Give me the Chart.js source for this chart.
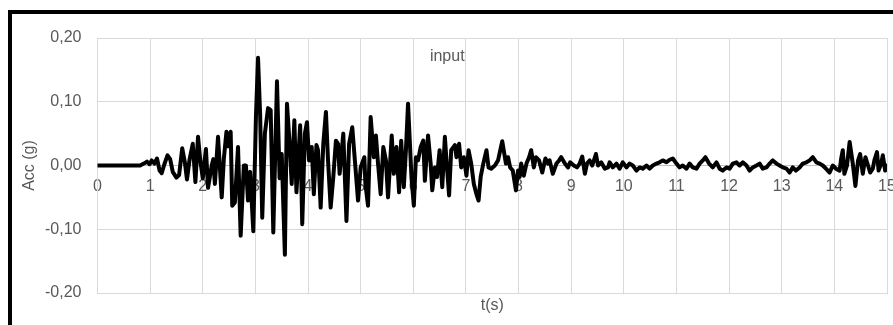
<!DOCTYPE html>
<html>
<head>
<meta charset="utf-8">
<script src="https://cdn.jsdelivr.net/npm/chart.js@4/dist/chart.umd.min.js"></script>
<style>
  html, body { margin: 0; padding: 0; background: #fff; overflow: hidden; }
  #wrap { position: relative; width: 893px; height: 325px; }
  #frame { position: absolute; left: 8px; top: 10px; width: 1000px; height: 400px;
           border-left: 4px solid #000; border-top: 4px solid #000; }
  #myChart { position: absolute; left: 0; top: 0; }
</style>
</head>
<body>
<div id="wrap">
  <div id="frame"></div>
  <canvas id="myChart" width="893" height="325"></canvas>
</div>
<script>
// time (s) and acceleration (g)
const times = [
  0, 0.4, 0.81, 0.88, 0.94, 0.99, 1.03, 1.08, 1.13, 1.18, 1.22, 1.27, 1.33, 1.38, 1.43, 1.50,
  1.55, 1.61, 1.66, 1.70, 1.75, 1.81, 1.86, 1.91, 1.95, 2.00, 2.06, 2.10, 2.17, 2.20, 2.23,
  2.29, 2.36, 2.40, 2.45, 2.48, 2.53, 2.56, 2.61, 2.67, 2.72, 2.78, 2.82, 2.86, 2.90, 2.96,
  3.01, 3.05, 3.09, 3.13, 3.18, 3.24, 3.29, 3.34, 3.41, 3.46, 3.50, 3.56, 3.60, 3.65, 3.69,
  3.74, 3.78, 3.85, 3.89, 3.94, 3.98, 4.02, 4.07, 4.11, 4.16, 4.19, 4.24, 4.29, 4.34, 4.38,
  4.43, 4.48, 4.53, 4.57, 4.60, 4.67, 4.73, 4.78, 4.84, 4.89, 4.95, 5.00, 5.07, 5.09, 5.14,
  5.19, 5.25, 5.29, 5.33, 5.38, 5.43, 5.48, 5.52, 5.59, 5.63, 5.68, 5.73, 5.77, 5.82, 5.86,
  5.90, 5.965, 6.01, 6.05, 6.09, 6.14, 6.19, 6.22, 6.28, 6.33, 6.36, 6.41, 6.45, 6.50, 6.55,
  6.60, 6.63, 6.68, 6.72, 6.79, 6.82, 6.87, 6.91, 6.96, 7.01, 7.05, 7.10, 7.15, 7.20, 7.24,
  7.28, 7.33, 7.39, 7.43, 7.48, 7.55, 7.61, 7.69, 7.76, 7.80, 7.84, 7.89, 7.95, 7.99, 8.02,
  8.05, 8.10, 8.15, 8.20, 8.24, 8.29, 8.33, 8.39, 8.45, 8.51, 8.56, 8.59, 8.65, 8.72, 8.77,
  8.81, 8.88, 8.94, 8.98, 9.05, 9.11, 9.16, 9.21, 9.26, 9.30, 9.35, 9.40, 9.47, 9.51, 9.57,
  9.64, 9.70, 9.73, 9.79, 9.86, 9.92, 9.98, 10.05, 10.11, 10.17, 10.24, 10.30, 10.36, 10.43,
  10.49, 10.55, 10.62, 10.68, 10.74, 10.81, 10.87, 10.93, 11.00, 11.06, 11.12, 11.19, 11.25,
  11.31, 11.38, 11.44, 11.50, 11.55, 11.62, 11.69, 11.76, 11.82, 11.88, 11.95, 12.01, 12.07,
  12.14, 12.20, 12.26, 12.33, 12.39, 12.45, 12.52, 12.58, 12.64, 12.71, 12.77, 12.83, 12.90,
  12.96, 13.02, 13.09, 13.15, 13.21, 13.27, 13.34, 13.40, 13.47, 13.53, 13.59, 13.66, 13.72,
  13.78, 13.84, 13.91, 13.97, 14.03, 14.10, 14.13, 14.16, 14.19, 14.24, 14.29, 14.35, 14.40,
  14.45, 14.49, 14.54, 14.59, 14.64, 14.68, 14.73, 14.76, 14.81, 14.84, 14.89, 14.92, 14.965, 15.0
];
const acc = [
  0, 0, 0, 0.003, 0.006, 0.002, 0.008, 0.003, 0.011, -0.008, -0.012, 0.002, 0.016, 0.010, -0.010, -0.019,
  -0.015, 0.027, 0.005, -0.022, 0.010, 0.034, -0.026, 0.045, 0.010, -0.020, 0.026, -0.035, 0.000, 0.010, -0.029,
  0.045, -0.050, 0.010, 0.053, 0.030, 0.053, -0.063, -0.058, 0.029, -0.110, 0.000, 0.000, -0.055, -0.010, -0.103,
  0.076, 0.169, 0.080, -0.082, 0.050, 0.090, 0.087, -0.105, 0.132, -0.020, 0.018, -0.140, 0.097, 0.034, -0.029,
  0.071, -0.042, 0.063, -0.092, 0.050, 0.068, 0.008, 0.029, -0.045, 0.032, 0.024, -0.066, 0.034, 0.084, 0.008,
  -0.066, -0.018, 0.039, 0.034, -0.013, 0.050, -0.087, 0.034, 0.060, 0.008, -0.055, -0.003, 0.013, -0.029, -0.063,
  0.076, 0.013, 0.047, 0.003, -0.045, 0.029, 0.008, -0.050, 0.047, -0.013, 0.029, -0.042, 0.039, -0.034, 0.024,
  0.097, -0.018, -0.063, 0.013, 0.008, 0.029, 0.039, -0.024, 0.047, 0.003, -0.039, -0.003, -0.018, 0.024, -0.034,
  0.045, 0.008, -0.047, 0.024, 0.032, 0.013, 0.034, -0.003, 0.013, -0.016, 0.024, 0.003, -0.029, -0.045, -0.055,
  -0.018, 0.003, 0.024, -0.003, -0.005, 0.000, 0.008, 0.038, 0.003, 0.013, -0.003, -0.008, -0.039, -0.008, -0.018,
  0.003, -0.016, 0.003, 0.013, 0.024, -0.003, 0.013, 0.008, -0.011, 0.011, 0.003, 0.008, -0.013, 0.003, 0.008,
  0.013, 0.003, -0.003, 0.005, 0.000, -0.003, 0.003, 0.014, -0.013, 0.003, 0.008, 0.000, 0.018, 0.000, 0.005,
  -0.005, -0.003, 0.005, -0.003, 0.003, -0.005, 0.005, -0.003, 0.003, 0.000, -0.008, -0.003, -0.005, 0.000,
  -0.005, 0.000, 0.003, 0.005, 0.008, 0.005, 0.009, 0.011, 0.003, -0.003, 0.000, -0.005, 0.003,
  -0.003, -0.005, 0.003, 0.008, 0.013, 0.003, -0.003, 0.005, -0.005, -0.008, -0.003, -0.005, 0.003,
  0.005, 0.000, 0.005, 0.000, -0.008, -0.003, 0.000, 0.003, -0.005, -0.003, 0.003, 0.008, 0.003,
  0.000, -0.003, -0.005, -0.011, -0.003, -0.008, -0.003, 0.003, 0.005, 0.008, 0.013, 0.005, 0.003,
  0.000, -0.005, -0.011, 0.000, -0.005, -0.008, 0.011, 0.024, -0.013, 0.000, 0.037, 0.003, -0.032,
  0.008, 0.018, -0.013, 0.013, 0.000, -0.011, -0.005, 0.008, 0.021, -0.008, 0.003, 0.016, -0.008, 0.000
];
const yTicks = [-0.2, -0.1, 0, 0.1, 0.2];
const chartTitle = 'input';

const ctx = document.getElementById('myChart');
const grey = '#595959';
const gridGrey = '#d9d9d9';
const font = { family: "'Liberation Sans', Arial, sans-serif", size: 16 };

const points = times.map((t, i) => ({ x: t, y: acc[i] }));

const titleInside = {
    id: 'titleInside',
    afterDraw(chart) {
        const c = chart.ctx;
        const area = chart.chartArea;
        c.save();
        c.font = "16px 'Liberation Sans', Arial, sans-serif";
        c.fillStyle = grey;
        c.textAlign = 'center';
        c.textBaseline = 'middle';
        c.fillText(chartTitle, area.left + (area.right - area.left) * 0.443, area.top + 19);
        c.restore();
    }
};

function noSidePad(scale) {
    scale.paddingLeft = 0;
    scale.paddingRight = 0;
}

new Chart(ctx, {
    type: 'line',
    data: {
        datasets: [{
            label: 'input',
            data: points,
            borderColor: '#000',
            borderWidth: 4,
            pointRadius: 0,
            tension: 0,
            borderJoinStyle: 'round',
            borderCapStyle: 'round'
        }]
    },
    options: {
        responsive: false,
        animation: false,
        parsing: false,
        layout: { padding: { left: 0, right: 6, top: 38, bottom: 0 } },
        plugins: {
            legend: { display: false },
            tooltip: { enabled: false }
        },
        scales: {
            x: {
                type: 'linear',
                position: 'bottom',
                min: 0,
                max: 15,
                ticks: { display: false, stepSize: 1 },
                grid: { color: gridGrey, drawTicks: false },
                border: { color: gridGrey },
                title: { display: true, text: 't(s)', color: grey, font: font, padding: { top: 0, bottom: 10 } },
                afterFit(scale) { scale.height = 32; noSidePad(scale); }
            },
            x2: {
                type: 'linear',
                position: { y: 0 },
                min: 0,
                max: 15,
                ticks: { stepSize: 1, color: grey, font: font, padding: 11, maxRotation: 0 },
                grid: { display: false, drawTicks: false },
                border: { display: true, color: '#bfbfbf', width: 1 },
                afterFit: noSidePad
            },
            y: {
                min: -0.2,
                max: 0.2,
                afterBuildTicks(scale) { scale.ticks = yTicks.map(v => ({ value: v })); },
                ticks: {
                    color: grey,
                    font: font,
                    padding: 16,
                    callback: v => v.toFixed(2).replace('.', ',')
                },
                grid: { color: gridGrey, drawTicks: false },
                border: { color: gridGrey },
                title: { display: true, text: 'Acc (g)', color: grey, font: font, padding: { top: 20, bottom: 0 } },
                afterFit(scale) { scale.width = 97.5; scale.paddingTop = 0; scale.paddingBottom = 0; }
            }
        }
    },
    plugins: [titleInside]
});
</script>
</body>
</html>
